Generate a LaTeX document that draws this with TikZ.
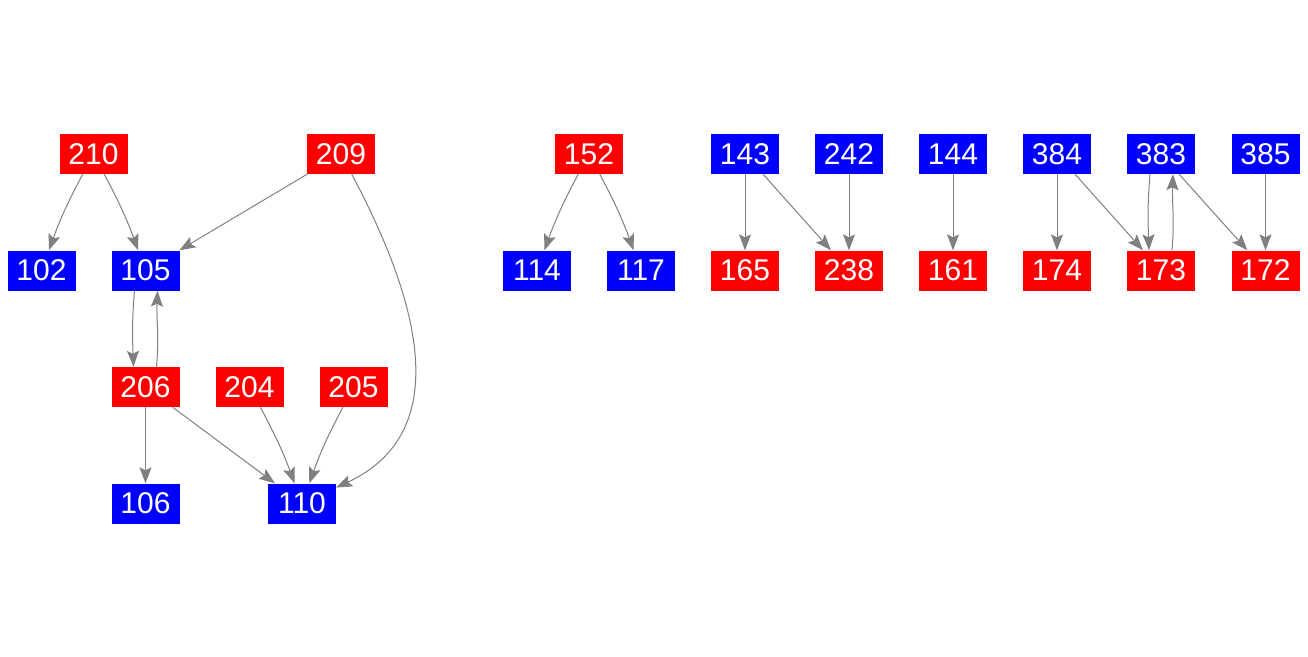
\documentclass[tikz,border=0pt]{standalone}
\usepackage{fontspec}
\setmainfont{Liberation Sans}
\usetikzlibrary{arrows.meta}
\definecolor{nred}{RGB}{255,0,0}
\definecolor{nblue}{RGB}{0,0,255}
\definecolor{egray}{RGB}{128,128,128}
\tikzset{
  box/.style={minimum width=68pt,minimum height=40pt,inner sep=0pt,text=white,
    font=\fontsize{30}{30}\selectfont},
  rbox/.style={box,fill=nred},
  bbox/.style={box,fill=nblue},
  edge/.style={draw=egray,line width=1pt,-{Stealth[length=16pt,width=12pt,inset=3pt]}}
}
\begin{document}
\begin{tikzpicture}[x=1pt,y=-1pt]
\useasboundingbox (0,0) rectangle (1308,656);
% left component
\node[rbox] (n210) at (93.5,154) {210};
\node[rbox] (n209) at (341,154) {209};
\node[bbox] (n102) at (41.5,270.5) {102};
\node[bbox] (n105) at (145.5,270.5) {105};
\node[rbox] (n206) at (145.5,387) {206};
\node[rbox] (n204) at (249.5,387) {204};
\node[rbox] (n205) at (353.5,387) {205};
\node[bbox] (n106) at (145.5,503.5) {106};
\node[bbox] (n110) at (302,503.5) {110};
% right components
\node[rbox] (n152) at (589,154) {152};
\node[bbox] (n114) at (537,270.5) {114};
\node[bbox] (n117) at (641,270.5) {117};
\node[bbox] (n143) at (745,154) {143};
\node[bbox] (n242) at (849,154) {242};
\node[rbox] (n165) at (745,270.5) {165};
\node[rbox] (n238) at (849,270.5) {238};
\node[bbox] (n144) at (953,154) {144};
\node[rbox] (n161) at (953,270.5) {161};
\node[bbox] (n384) at (1057,154) {384};
\node[bbox] (n383) at (1161,154) {383};
\node[bbox] (n385) at (1265.5,154) {385};
\node[rbox] (n174) at (1057,270.5) {174};
\node[rbox] (n173) at (1161,270.5) {173};
\node[rbox] (n172) at (1265.5,270.5) {172};
% edges
\draw[edge] (n210) to[bend right=4] (n102);
\draw[edge] (n210) to[bend left=4] (n105);
\draw[edge] (n209) -- (n105);
\draw[edge] (n209) to[out=-62,in=25,looseness=1.1] (n110);
\draw[edge] ([xshift=-11pt]n105.south) to[out=-95,in=92] ([xshift=-12pt]n206.north);
\draw[edge] ([xshift=11pt]n206.north) to[out=85,in=-92] ([xshift=12pt]n105.south);
\draw[edge] (n206) -- (n106);
\draw[edge] (n206) -- (n110);
\draw[edge] (n204) to[bend left=4] (n110);
\draw[edge] (n205) to[bend right=4] (n110);
\draw[edge] (n152) to[bend right=4] (n114);
\draw[edge] (n152) to[bend left=4] (n117);
\draw[edge] (n143) -- (n165);
\draw[edge] (n143) -- (n238);
\draw[edge] (n242) -- (n238);
\draw[edge] (n144) -- (n161);
\draw[edge] (n384) -- (n174);
\draw[edge] (n384) -- (n173);
\draw[edge] ([xshift=-11pt]n383.south) to[out=-95,in=92] ([xshift=-12pt]n173.north);
\draw[edge] ([xshift=11pt]n173.north) to[out=85,in=-92] ([xshift=12pt]n383.south);
\draw[edge] (n383) -- (n172);
\draw[edge] (n385) -- (n172);
\end{tikzpicture}
\end{document}
